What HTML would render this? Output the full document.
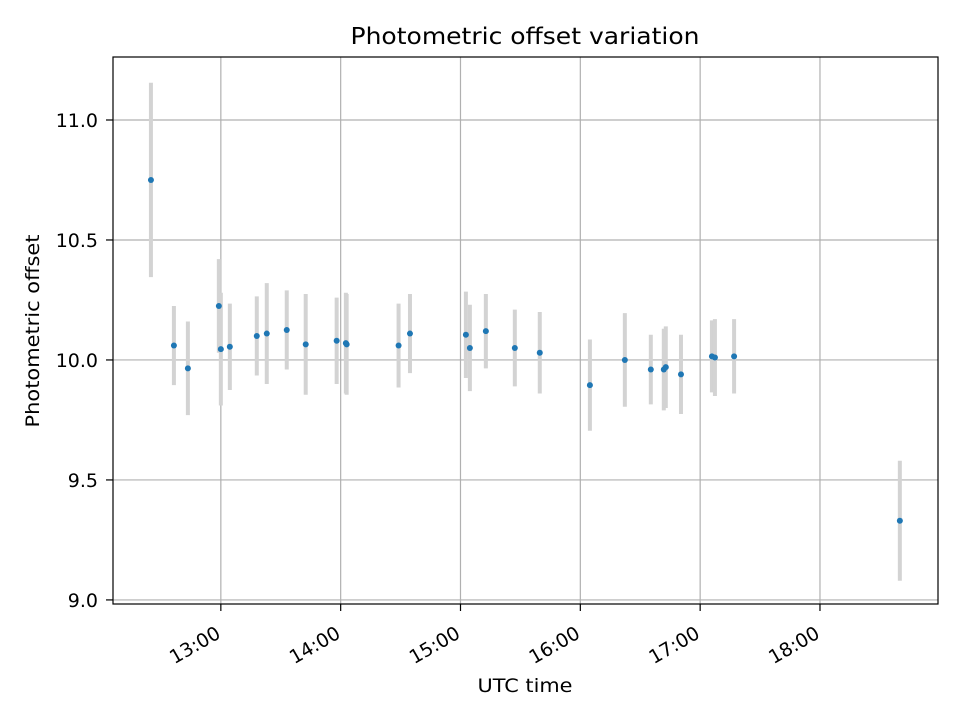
<!DOCTYPE html>
<html><head><meta charset="utf-8"><style>
body{margin:0;background:#fff;font-family:"DejaVu Sans","Liberation Sans",sans-serif}
</style></head><body>
<svg id="chart" width="960" height="720" xmlns="http://www.w3.org/2000/svg" font-family="'DejaVu Sans','Liberation Sans',sans-serif">
<rect width="960" height="720" fill="#fff"/>
<text x="525" y="44" text-anchor="middle" font-size="23" textLength="349" lengthAdjust="spacingAndGlyphs">Photometric offset variation</text>
<text x="525" y="692" text-anchor="middle" font-size="19" textLength="95" lengthAdjust="spacingAndGlyphs">UTC time</text>
<text transform="translate(39,331) rotate(-90)" text-anchor="middle" font-size="19" textLength="193" lengthAdjust="spacingAndGlyphs">Photometric offset</text>
<g id="grid"></g>
<g id="errs"></g>
<g id="pts"></g>
<g id="ticks"></g>
<rect x="113" y="57" width="825" height="547" fill="none" stroke="#000" stroke-width="1.2"/>
</svg>
<script>
// minutes after 12:00 UTC
const times=[25,36.5,43.5,59,60,64.5,78,83,93,102.5,118,122.6,123,149,154.7,182.7,184.7,192.7,207.2,219.7,244.8,262.3,275.3,281.8,282.8,290.4,305.9,307.4,317,400];
const offsets=[10.75,10.06,9.965,10.225,10.045,10.055,10.10,10.11,10.125,10.065,10.08,10.07,10.065,10.06,10.11,10.105,10.05,10.12,10.05,10.03,9.895,10.0,9.96,9.96,9.97,9.94,10.015,10.01,10.015,9.33];
const errors=[0.405,0.165,0.195,0.195,0.235,0.18,0.165,0.21,0.165,0.21,0.18,0.21,0.21,0.175,0.165,0.18,0.18,0.155,0.16,0.17,0.19,0.195,0.145,0.17,0.17,0.165,0.15,0.16,0.155,0.25];
const yTicks=[9.0,9.5,10.0,10.5,11.0];
const yTickLabels=["9.0","9.5","10.0","10.5","11.0"];
const xTicks=[60,120,180,240,300,360];
const xTickLabels=["13:00","14:00","15:00","16:00","17:00","18:00"];
const X0=113,X1=938,Y0=57,Y1=604,xmin=6,xmax=419.1,ymin=8.983,ymax=11.2625;
const sx=v=>X0+(v-xmin)/(xmax-xmin)*(X1-X0);
const sy=v=>Y1-(v-ymin)/(ymax-ymin)*(Y1-Y0);
const NS="http://www.w3.org/2000/svg";
function mk(tag,attrs,parent){const e=document.createElementNS(NS,tag);for(const k in attrs)e.setAttribute(k,attrs[k]);parent.appendChild(e);return e;}
const grid=document.getElementById('grid'),ticks=document.getElementById('ticks'),errs=document.getElementById('errs'),pts=document.getElementById('pts');
yTicks.forEach((v,i)=>{const y=sy(v);
 const g=mk('line',{x1:X0,x2:X1,y1:y,y2:y,stroke:'#b0b0b0','stroke-width':1.2},grid);
 
 
 mk('line',{x1:X0-7,x2:X0,y1:y,y2:y,stroke:'#000','stroke-width':1.2},ticks);
 const t=mk('text',{x:X0-15,y:y+7,'text-anchor':'end','font-size':'19'},ticks);t.textContent=yTickLabels[i];
 
 
});
xTicks.forEach((v,i)=>{const x=sx(v);
 const g=mk('line',{x1:x,x2:x,y1:Y0,y2:Y1,stroke:'#b0b0b0','stroke-width':1.2},grid);
 
 
 mk('line',{x1:x,x2:x,y1:Y1,y2:Y1+7,stroke:'#000','stroke-width':1.2},ticks);
 const t=mk('text',{transform:`translate(${x+1},${Y1+33}) rotate(-30)`,'text-anchor':'end','font-size':'19'},ticks);t.textContent=xTickLabels[i];
 
 
});
times.forEach((t,i)=>{const x=sx(t);
 const e=mk('line',{x1:x,x2:x,y1:sy(offsets[i]+errors[i]),y2:sy(offsets[i]-errors[i]),stroke:'#d3d3d3','stroke-width':4},errs);
 
 
});
times.forEach((t,i)=>{
 const c=mk('circle',{cx:sx(t),cy:sy(offsets[i]),r:3,fill:'#1f77b4'},pts);
 
 
});
</script>
</body></html>
